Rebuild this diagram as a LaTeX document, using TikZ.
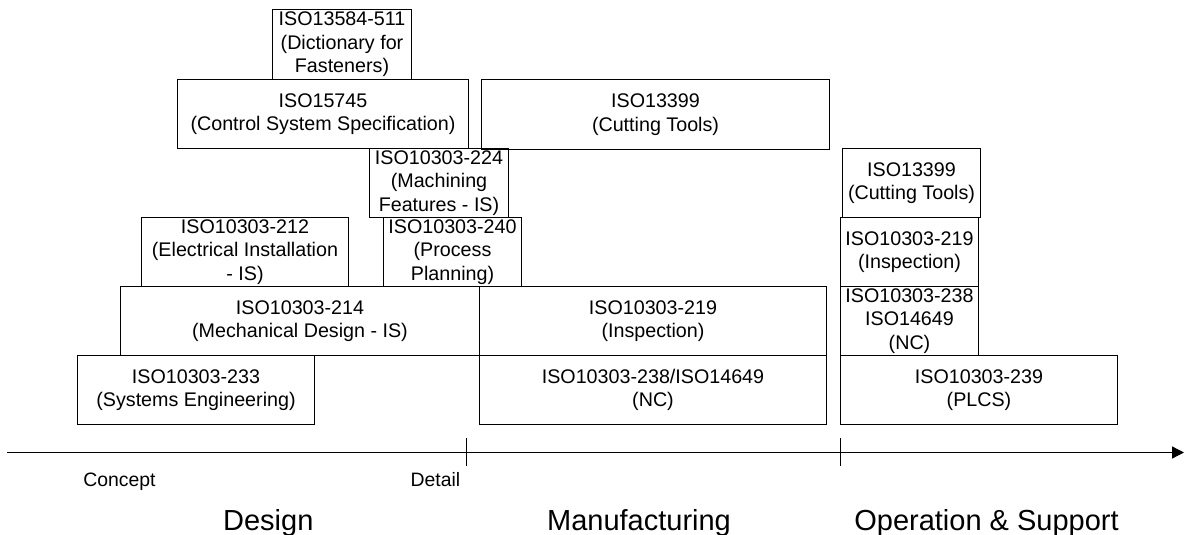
\documentclass[tikz,border=0pt]{standalone}
\usepackage{fontspec}
\setmainfont{Liberation Sans}
\usetikzlibrary{arrows.meta}

\tikzset{
  stdbox/.style 2 args={draw, line width=1pt, anchor=north west, inner sep=0pt,
    align=center, minimum width=#1pt, minimum height=#2pt,
    font=\fontsize{19.7}{23.5}\selectfont},
  phase/.style={anchor=base, font=\fontsize{19.4}{23}\selectfont},
  stage/.style={anchor=base, font=\fontsize{29}{34}\selectfont}
}

\begin{document}
\begin{tikzpicture}[x=1pt,y=-1pt]
\useasboundingbox (0,0) rectangle (1184,535);
% design
\node (dict) [stdbox={139}{70}] at (272,9) {ISO13584-511\\(Dictionary for\\Fasteners)};
\node (ctrl) [stdbox={291}{69}] at (177,79) {ISO15745\\(Control System Specification)};
\node (mach) [stdbox={139}{69}] at (369,148) {ISO10303-224\\(Machining\\Features - IS)};
\node (elec) [stdbox={207}{69}] at (141,217) {ISO10303-212\\(Electrical Installation\\- IS)};
\node (proc) [stdbox={138}{69}] at (383,217) {ISO10303-240\\(Process\\Planning)};
\node (mech) [stdbox={359}{69}] at (120,286) {ISO10303-214\\(Mechanical Design - IS)};
\node (syse) [stdbox={237}{69}] at (77,355) {ISO10303-233\\(Systems Engineering)};
% manufacturing
\node (cut) [stdbox={348}{70}] at (481,79) {ISO13399\\(Cutting Tools)};
\node (insp) [stdbox={347}{69}] at (479,286) {ISO10303-219\\(Inspection)};
\node (nc) [stdbox={347}{69}] at (479,355) {ISO10303-238/ISO14649\\(NC)};
% operation & support
\node (cutos) [stdbox={138}{69}] at (842,148) {ISO13399\\(Cutting Tools)};
\node (inspos) [stdbox={138}{69}] at (840,217) {ISO10303-219\\(Inspection)};
\node (ncos) [stdbox={138}{69}] at (840,286) {ISO10303-238\\ISO14649\\(NC)};
\node (plcs) [stdbox={277}{69}] at (840,355) {ISO10303-239\\(PLCS)};
% time axis
\coordinate (start) at (7,452.5);
\coordinate (end) at (1184,452.5);
\draw[line width=1.3pt, -{Triangle[length=12pt,width=12pt]}] (start) -- (end);
\foreach \x in {466,840}
  \draw[line width=1pt] (\x,438) -- (\x,466);
\node (concept) [phase] at (119.5,486.7) {Concept};
\node (detail) [phase] at (435.5,486.7) {Detail};
\node (design) [stage] at (268.3,530) {Design};
\node (manuf) [stage] at (639,530) {Manufacturing};
\node (opsup) [stage] at (986.5,530) {Operation \& Support};
\end{tikzpicture}
\end{document}
